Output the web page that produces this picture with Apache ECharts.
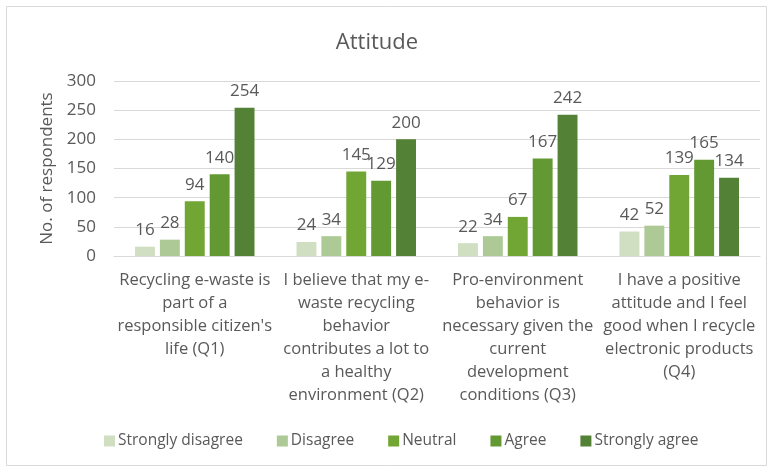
<!DOCTYPE html>
<html>
<head>
<meta charset="utf-8">
<script src="https://cdn.jsdelivr.net/npm/echarts@6/dist/echarts.min.js"></script>
<style>
  html, body { margin: 0; padding: 0; background: #fff; }
  #chart { width: 774px; height: 472px; }
</style>
</head>
<body>
<div id="chart"></div>
<script>
const categories = [
  "Recycling e-waste is\npart of a\nresponsible citizen's\nlife (Q1)",
  "I believe that my e-\nwaste recycling\nbehavior\ncontributes a lot to\na healthy\nenvironment (Q2)",
  "Pro-environment\nbehavior is\nnecessary given the\ncurrent\ndevelopment\nconditions (Q3)",
  "I have a positive\nattitude and I feel\ngood when I recycle\nelectronic products\n(Q4)"
];
const seriesNames = ["Strongly disagree", "Disagree", "Neutral", "Agree", "Strongly agree"];
const stronglyDisagree = [16, 24, 22, 42];
const disagree = [28, 34, 34, 52];
const neutral = [94, 145, 67, 139];
const agree = [140, 129, 167, 165];
const stronglyAgree = [254, 200, 242, 134];
const colors = ["#d0dfc2", "#adc995", "#71a534", "#629933", "#538135"];

const values = [stronglyDisagree, disagree, neutral, agree, stronglyAgree];
const font = "'Open Sans', 'Liberation Sans', sans-serif";
const textColor = "#595959";

const chart = echarts.init(document.getElementById("chart"));
chart.setOption({
  backgroundColor: "#fff",
  textStyle: { fontFamily: font },
  graphic: [{
    type: "rect",
    shape: { x: 6.5, y: 6.5, width: 760, height: 459 },
    style: { fill: "none", stroke: "#d9d9d9", lineWidth: 1 },
    silent: true
  }],
  title: {
    text: "Attitude",
    left: 372,
    top: 27,
    textAlign: "center",
    textStyle: { fontFamily: font, fontSize: 22, fontWeight: "normal", color: textColor }
  },
  legend: {
    data: seriesNames,
    bottom: 18,
    left: 99,
    itemWidth: 11,
    itemHeight: 11,
    itemGap: 34,
    icon: "rect",
    textStyle: { fontFamily: font, fontSize: 15.5, color: textColor, padding: [0, 0, 0, -2] }
  },
  grid: { left: 114, right: 14, top: 81, bottom: 216 },
  xAxis: {
    type: "category",
    data: categories,
    axisLine: { lineStyle: { color: "#d9d9d9" } },
    axisTick: { show: false },
    axisLabel: {
      interval: 0,
      fontFamily: font,
      fontSize: 16.5,
      lineHeight: 23,
      color: textColor,
      margin: 13,
      align: "center"
    }
  },
  yAxis: {
    type: "value",
    min: 0,
    max: 300,
    interval: 50,
    name: "No. of respondents",
    nameLocation: "middle",
    nameGap: 58,
    nameTextStyle: { fontFamily: font, fontSize: 17, color: textColor },
    axisLine: { show: false },
    axisTick: { show: false },
    axisLabel: { fontFamily: font, fontSize: 17, color: textColor, margin: 18 },
    splitLine: { lineStyle: { color: "#d9d9d9" } }
  },
  series: seriesNames.map((name, i) => ({
    name,
    type: "bar",
    data: values[i],
    barGap: "25%",
    barCategoryGap: "26%",
    itemStyle: { color: colors[i] },
    label: {
      show: true,
      position: "top",
      distance: 8,
      fontFamily: font,
      fontSize: 17,
      color: textColor
    }
  }))
});
</script>
</body>
</html>
